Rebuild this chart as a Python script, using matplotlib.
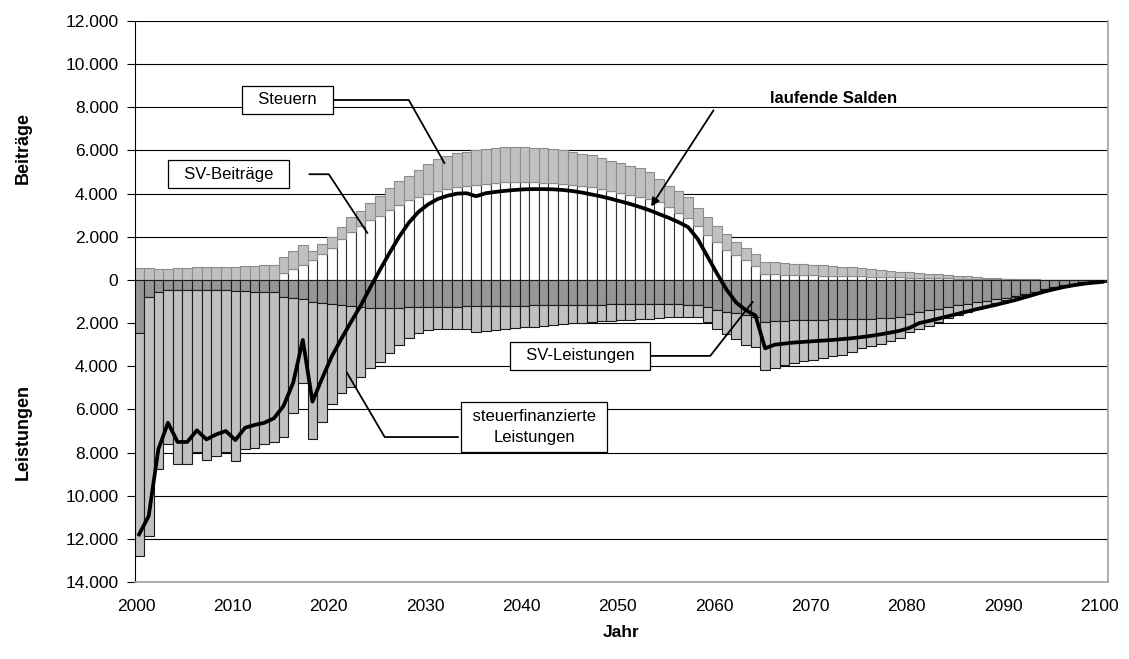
import numpy as np
import matplotlib.pyplot as plt
from matplotlib.ticker import FuncFormatter, MultipleLocator

plt.rcParams['font.family'] = ['Liberation Sans', 'DejaVu Sans']

# Jahre 2000 - 2100
jahre = np.arange(2000, 2101)

# Beiträge (positiv)
sv_beitraege = [
    0, 0, 0, 0, 0, 0, 0, 0, 0, 0,
    0, 0, 0, 0, 0, 340, 500, 700, 930, 1190,
    1500, 1885, 2225, 2500, 2780, 2970, 3245, 3480, 3710, 3830,
    3990, 4130, 4220, 4300, 4370, 4400, 4450, 4510, 4530, 4530,
    4530, 4530, 4510, 4480, 4450, 4400, 4360, 4300, 4220, 4130,
    4050, 3940, 3830, 3740, 3590, 3380, 3090, 2860, 2500, 2090,
    1780, 1390, 1160, 930, 650, 280, 260, 250, 240, 230,
    210, 200, 190, 180, 170, 160, 150, 140, 130, 120,
    110, 100, 90, 80, 70, 60, 55, 50, 40, 35,
    30, 25, 20, 15, 10, 5, 0, 0, 0, 0,
    0]

steuern = [
    570, 540, 500, 530, 540, 540, 590, 590, 590, 590,
    600, 650, 660, 680, 700, 730, 845, 920, 415, 460,
    510, 555, 680, 715, 775, 925, 1005, 1110, 1130, 1270,
    1370, 1460, 1545, 1570, 1580, 1630, 1630, 1610, 1610, 1610,
    1610, 1590, 1600, 1580, 1550, 1540, 1500, 1470, 1420, 1400,
    1360, 1360, 1350, 1280, 1110, 970, 1010, 970, 850, 850,
    720, 730, 620, 540, 560, 570, 560, 540, 520, 500,
    490, 470, 450, 430, 410, 380, 350, 330, 300, 270,
    240, 220, 200, 180, 150, 130, 105, 80, 70, 45,
    30, 20, 15, 10, 5, 5, 5, 5, 0, 0,
    0]

# Leistungen (als Beträge, werden nach unten gezeichnet)
sv_leistungen = [
    2440, 790, 540, 480, 480, 480, 480, 470, 470, 480,
    510, 525, 540, 555, 555, 790, 835, 900, 1000, 1050,
    1100, 1150, 1230, 1260, 1280, 1290, 1290, 1280, 1270, 1260,
    1250, 1250, 1240, 1240, 1230, 1230, 1220, 1210, 1200, 1200,
    1190, 1180, 1170, 1160, 1160, 1150, 1140, 1140, 1140, 1130,
    1130, 1130, 1130, 1130, 1130, 1130, 1130, 1140, 1150, 1240,
    1390, 1470, 1550, 1620, 1700, 1930, 1910, 1890, 1870, 1860,
    1850, 1840, 1830, 1820, 1810, 1800, 1790, 1780, 1770, 1700,
    1560, 1480, 1400, 1330, 1250, 1180, 1110, 1040, 970, 900,
    830, 730, 650, 540, 420, 320, 240, 170, 110, 80,
    60]

steuer_leistungen = [
    10360, 11080, 8240, 7110, 8070, 8070, 7480, 7880, 7690, 7500,
    7880, 7325, 7230, 7065, 6945, 6470, 5315, 3880, 6370, 5550,
    4650, 4105, 3750, 3220, 2820, 2500, 2110, 1735, 1410, 1180,
    1050, 1030, 1030, 1020, 1030, 1170, 1130, 1110, 1080, 1040,
    1010, 980, 960, 930, 890, 860, 840, 810, 780, 770,
    740, 720, 690, 660, 630, 600, 590, 580, 570, 690,
    900, 1050, 1200, 1390, 1390, 2250, 2150, 2030, 1970, 1900,
    1850, 1780, 1710, 1640, 1550, 1370, 1280, 1190, 1070, 1000,
    870, 800, 720, 620, 530, 440, 380, 320, 230, 150,
    100, 80, 50, 40, 40, 35, 40, 30, 30, 30,
    30]

laufende_salden = [
    -11790, -10940, -7850, -6620, -7510, -7510, -6970, -7390, -7160, -7000,
    -7420, -6850, -6720, -6620, -6410, -5840, -4760, -2780, -5640, -4570,
    -3550, -2730, -1950, -1200, -350, 460, 1250, 2000, 2650, 3150,
    3500, 3750, 3900, 4000, 4020, 3880, 4020, 4080, 4130, 4170,
    4200, 4210, 4210, 4200, 4170, 4120, 4050, 3960, 3870, 3760,
    3640, 3520, 3380, 3230, 3050, 2880, 2680, 2450, 1900, 1100,
    300, -450, -1050, -1400, -1650, -3170, -3000, -2950, -2900, -2870,
    -2840, -2810, -2780, -2740, -2700, -2650, -2590, -2520, -2440, -2350,
    -2220, -2000, -1900, -1790, -1680, -1570, -1460, -1350, -1250, -1150,
    -1040, -930, -800, -670, -540, -430, -330, -250, -180, -130,
    -90]


# Formatierung der Achsenbeschriftung: Beträge mit Punkt als Tausendertrennzeichen
def tausender(v, pos):
    return f"{abs(int(round(v))):,}".replace(',', '.')


def main():
    sv_b = np.array(sv_beitraege)
    st = np.array(steuern)
    sv_l = np.array(sv_leistungen)
    st_l = np.array(steuer_leistungen)

    fig = plt.figure(figsize=(11.29, 6.59), dpi=100)
    ax = fig.add_axes([0.1196, 0.1168, 0.8618, 0.8513])

    x = jahre + 0.3
    ax.bar(x, sv_b, width=1.0, color='white', edgecolor='#333333', linewidth=0.8, zorder=2)
    ax.bar(x, st, width=1.0, bottom=sv_b, color='#c0c0c0', edgecolor='#8c8c8c', linewidth=0.8, zorder=2)
    ax.bar(x, -sv_l, width=1.0, color='#969696', edgecolor='#1a1a1a', linewidth=0.8, zorder=2)
    ax.bar(x, -st_l, width=1.0, bottom=-sv_l, color='#c0c0c0', edgecolor='#1a1a1a', linewidth=0.8, zorder=2)
    ax.plot(x, laufende_salden, color='black', linewidth=2.7, zorder=4, solid_joinstyle='round')

    ax.set_xlim(1999.88, 2100.9)
    ax.set_ylim(-14000, 12000)
    ax.yaxis.set_major_locator(MultipleLocator(2000))
    ax.yaxis.set_major_formatter(FuncFormatter(tausender))
    ax.set_xticks(np.arange(2000, 2101, 10))
    ax.grid(axis='y', color='black', linewidth=0.8, zorder=0)
    ax.set_axisbelow(True)

    ax.tick_params(axis='y', direction='out', length=6, width=0.8, labelsize=12.5, pad=6)
    ax.tick_params(axis='x', length=0, labelsize=12.5, pad=12)

    for side in ['right', 'bottom']:
        ax.spines[side].set_color('#a0a0a0')
        ax.spines[side].set_linewidth(1.2)
    ax.spines['top'].set_visible(False)
    ax.spines['left'].set_color('black')
    ax.spines['left'].set_linewidth(0.8)

    ax.set_xlabel('Jahr', fontsize=12.5, fontweight='bold', labelpad=8)
    fig.text(0.021, 0.775, 'Beiträge', rotation=90, fontsize=13, fontweight='bold', ha='center', va='center')
    fig.text(0.021, 0.345, 'Leistungen', rotation=90, fontsize=13, fontweight='bold', ha='center', va='center')

    box = dict(boxstyle='square,pad=0.4', facecolor='white', edgecolor='black', linewidth=0.9)
    lk = dict(color='black', linewidth=1.3, zorder=6, clip_on=False)

    # Steuern
    ax.text(2015.7, 8340, '  Steuern  ', ha='center', va='center', fontsize=12, bbox=box, zorder=7)
    ax.plot([2020.6, 2028.3, 2032.0], [8340, 8340, 5420], **lk)

    # SV-Beiträge
    ax.text(2009.6, 4900, '  SV-Beiträge  ', ha='center', va='center', fontsize=12, bbox=box, zorder=7)
    ax.plot([2018.0, 2020.0, 2024.0], [4900, 4900, 2180], **lk)

    # laufende Salden
    ax.text(2072.4, 8430, 'laufende Salden', ha='center', va='center', fontsize=12, fontweight='bold', zorder=7)
    ax.annotate('', xy=(2053.3, 3300), xytext=(2060.1, 7970),
                arrowprops=dict(arrowstyle='-|>', color='black', lw=1.3, mutation_scale=12), zorder=7)

    # SV-Leistungen
    ax.text(2046.1, -3520, '  SV-Leistungen  ', ha='center', va='center', fontsize=12, bbox=box, zorder=7)
    ax.plot([2052.6, 2059.6, 2064.0], [-3520, -3520, -1020], **lk)

    # steuerfinanzierte Leistungen
    ax.text(2041.3, -6810, ' steuerfinanzierte \nLeistungen', ha='center', va='center', fontsize=12,
            linespacing=1.5, bbox=box, zorder=7)
    ax.plot([2033.4, 2025.8, 2021.9], [-7280, -7280, -4310], **lk)

    fig.savefig('out.png', dpi=100)


if __name__ == '__main__':
    main()
